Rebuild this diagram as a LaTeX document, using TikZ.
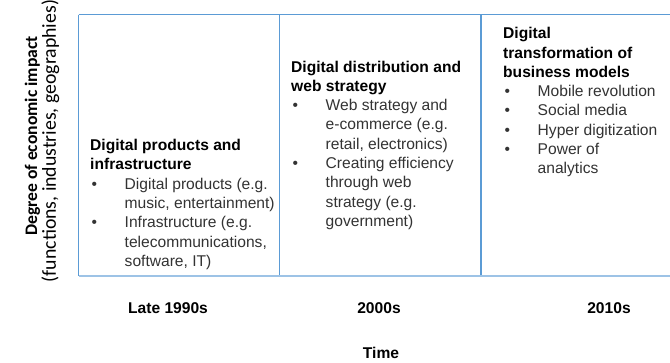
\documentclass[tikz,border=0pt]{standalone}
\usepackage{fontspec}
\setmainfont{Liberation Sans}
\newfontfamily\calib{Carlito}
\definecolor{lineblue}{HTML}{5B9BD5}
\definecolor{lightblue}{HTML}{9DC3E6}
\definecolor{bodygray}{HTML}{333333}
\newlength{\bw}
\setlength{\bw}{34.5pt}
\newcommand{\bul}{\makebox[\bw][l]{\hspace*{1.5pt}•}}
\newcommand{\ind}{\hspace*{\bw}}
\begin{document}
\begin{tikzpicture}[x=1pt,y=-1pt,
  frame/.style={draw=lineblue,line width=1.5pt},
  baseline frame/.style={draw=lightblue,line width=2pt},
  coltext/.style={anchor=base west,align=left,inner sep=0pt,
    font=\fontsize{15.6}{19.3}\selectfont,text=bodygray},
  period/.style={anchor=base,inner sep=0pt,font=\fontsize{15.6}{19}\selectfont\bfseries},
  axislabel/.style={rotate=90,anchor=base,inner sep=0pt}]
\useasboundingbox[fill=white] (0,0) rectangle (670,362);
% frame lines
\coordinate (tl) at (78.5,14.5);
\coordinate (tr) at (670,14.5);
\coordinate (bl) at (78.5,275.5);
\coordinate (br) at (670,275.5);
\coordinate (d1t) at (279.5,14.5);
\coordinate (d1b) at (279.5,275.5);
\coordinate (d2t) at (481,14.5);
\coordinate (d2b) at (481,275.5);
\draw[frame] (tl) -- (tr);
\draw[frame] (tl) -- (bl);
\draw[frame] (d1t) -- (d1b);
\draw[frame] (d2t) -- (d2b);
\draw[baseline frame] (bl) -- (br);
% column texts (anchored at the baseline of their last line)
\node[coltext] (c1) at (90,266.3) {%
\textcolor{black}{\bfseries Digital products and}\\
\textcolor{black}{\bfseries infrastructure}\\
\bul Digital products (e.g.\\
\ind music, entertainment)\\
\bul Infrastructure (e.g.\\
\ind telecommunications,\\
\ind software, IT)};
\node[coltext] (c2) at (291,226.4) {%
\textcolor{black}{\bfseries Digital distribution and}\\
\textcolor{black}{\bfseries web strategy}\\
\bul Web strategy and\\
\ind e-commerce (e.g.\\
\ind retail, electronics)\\
\bul Creating efficiency\\
\ind through web\\
\ind strategy (e.g.\\
\ind government)};
\node[coltext] (c3) at (503,173.8) {%
\textcolor{black}{\bfseries Digital}\\
\textcolor{black}{\bfseries transformation of}\\
\textcolor{black}{\bfseries business models}\\
\bul Mobile revolution\\
\bul Social media\\
\bul Hyper digitization\\
\bul Power of\\
\ind analytics};
% period labels
\node[period] (p1) at (168,313) {Late 1990s};
\node[period] (p2) at (379,313) {2000s};
\node[period] (p3) at (609,313) {2010s};
\node[period] (time) at (381,358.5) {Time};
% y axis label
\node[axislabel,font=\calib\fontsize{17.6}{20}\selectfont\bfseries] (ylab1) at (37,136) {Degree of economic impact};
\node[axislabel,font=\calib\fontsize{19.8}{22}\selectfont] (ylab2) at (56,141) {(functions, industries, geographies)};
\end{tikzpicture}
\end{document}
